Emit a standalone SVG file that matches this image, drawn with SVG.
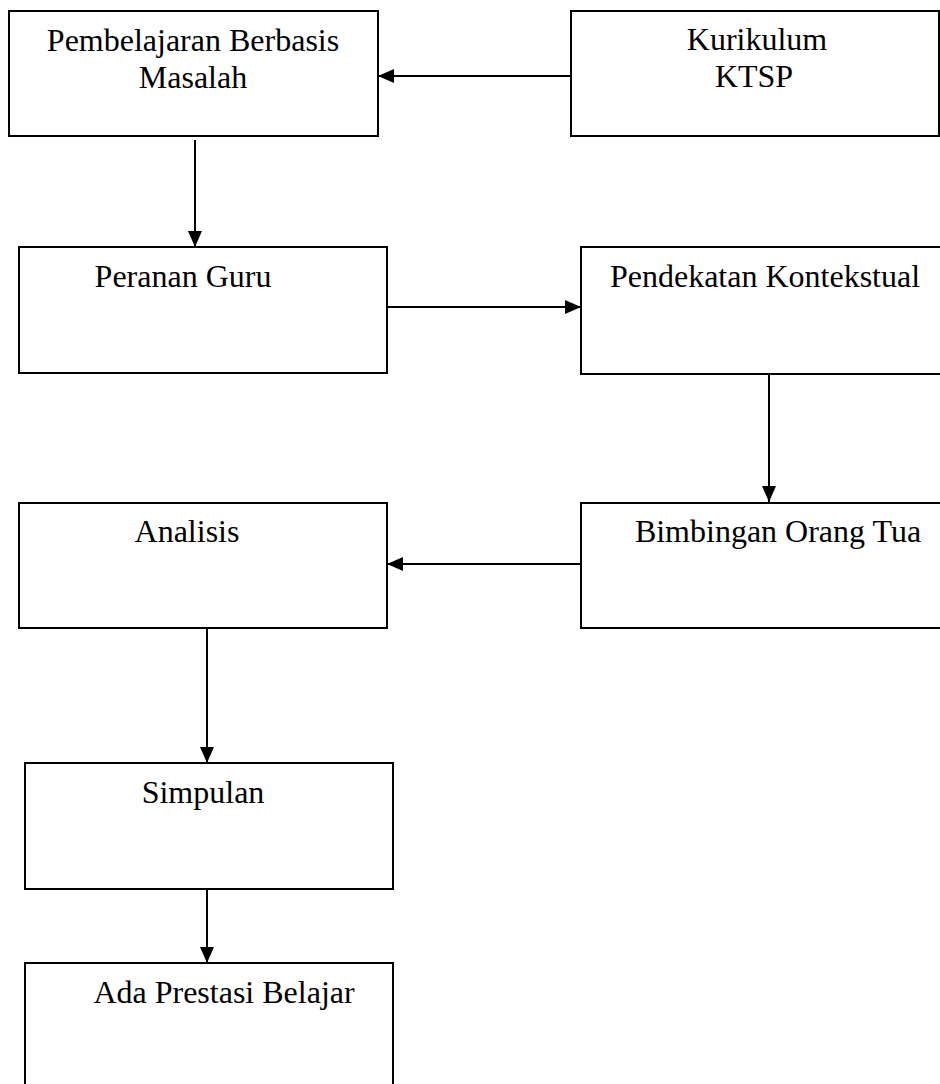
<svg xmlns="http://www.w3.org/2000/svg" width="940" height="1084" viewBox="0 0 940 1084">
<style>
.box{fill:#fff;stroke:#000;stroke-width:2}
.t{font-family:"Liberation Serif","Times New Roman",serif;font-size:32px;fill:#000;text-anchor:middle}
.c{stroke:#000;stroke-width:2;fill:none;marker-end:url(#ah)}
</style>
<defs>
<marker id="ah" markerUnits="userSpaceOnUse" markerWidth="16" markerHeight="14" refX="16" refY="7" orient="auto">
<path d="M0,0 L16,7 L0,14 z" fill="#000"/>
</marker>
</defs>
<rect width="940" height="1084" fill="#fff"/>
<g id="n1"><rect class="box" x="9" y="11" width="369" height="125"/><text class="t" x="193" y="51">Pembelajaran Berbasis</text><text class="t" x="193" y="88">Masalah</text></g>
<g id="n2"><rect class="box" x="571" y="11" width="368" height="125"/><text class="t" x="757" y="50">Kurikulum</text><text class="t" x="754" y="87">KTSP</text></g>
<g id="n3"><rect class="box" x="19" y="247" width="368" height="126"/><text class="t" x="183" y="287">Peranan Guru</text></g>
<g id="n4"><rect class="box" x="581" y="247" width="380" height="127"/><text class="t" x="765" y="287">Pendekatan Kontekstual</text></g>
<g id="n5"><rect class="box" x="19" y="503" width="368" height="125"/><text class="t" x="187" y="542">Analisis</text></g>
<g id="n6"><rect class="box" x="581" y="503" width="380" height="125"/><text class="t" x="778" y="542">Bimbingan Orang Tua</text></g>
<g id="n7"><rect class="box" x="25" y="763" width="368" height="126"/><text class="t" x="203" y="803">Simpulan</text></g>
<g id="n8"><rect class="box" x="25" y="963" width="368" height="140"/><text class="t" x="224" y="1003">Ada Prestasi Belajar</text></g>
<g id="connectors">
<line class="c" x1="571" y1="76" x2="378" y2="76"/>
<line class="c" x1="195" y1="140" x2="195" y2="247"/>
<line class="c" x1="387" y1="307" x2="581" y2="307"/>
<line class="c" x1="769" y1="374" x2="769" y2="502"/>
<line class="c" x1="580" y1="564" x2="387" y2="564"/>
<line class="c" x1="207" y1="628" x2="207" y2="763"/>
<line class="c" x1="207" y1="889" x2="207" y2="963"/>
</g>
</svg>
